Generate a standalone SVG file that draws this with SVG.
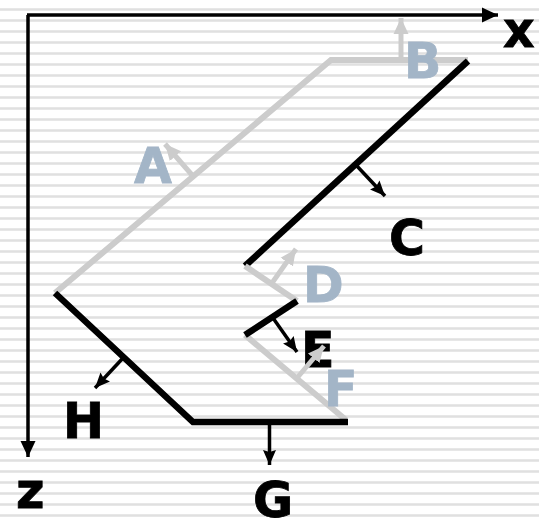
<svg xmlns="http://www.w3.org/2000/svg" width="539" height="521" viewBox="0 0 539 521">
<style>
text{font-family:"DejaVu Sans",sans-serif;font-weight:700;font-size:49px;stroke-width:.8}
.k{fill:#000;stroke:#000}.b{fill:#a3b5c7;stroke:#a3b5c7}
.edge{fill:none;stroke-width:6;stroke-linecap:butt;stroke-linejoin:miter}
.ek{stroke:#000;stroke-width:6.500}.eg{stroke:#cccccc}
.n{fill:none;stroke-width:3.500}
.nk{stroke:#000}.ng{stroke:#cccccc;stroke-width:5}
.ax{fill:none;stroke:#000;stroke-width:3.500}
.st{stroke:#e0e0e0;stroke-width:2.500}
</style>
<defs>
<marker id="ak" markerUnits="userSpaceOnUse" markerWidth="18" markerHeight="18" refX="16" refY="9" orient="auto"><path d="M1 2.500L16 9L1 15.500L3 9Z" fill="#000"/></marker>
<marker id="ag" markerUnits="userSpaceOnUse" markerWidth="18" markerHeight="18" refX="16" refY="9" orient="auto"><path d="M0 1.500L16 9L0 16.500Z" fill="#cccccc"/></marker>
<marker id="ax" markerUnits="userSpaceOnUse" markerWidth="18" markerHeight="18" refX="16" refY="9" orient="auto"><path d="M0 1.500L16 9L0 16.500Z" fill="#000"/></marker>
</defs>
<rect width="539" height="521" fill="#fff"/>
<g id="stripes" class="st">
<path d="M0 9.500H539M0 20.500H539M0 31.500H539M0 42.500H539M0 53.500H539M0 64.500H539M0 75.500H539M0 86.500H539M0 97.500H539M0 108.500H539M0 119.500H539M0 130.500H539M0 141.500H539M0 152.500H539M0 163.500H539M0 174.500H539M0 185.500H539M0 196.500H539M0 207.500H539M0 218.500H539M0 229.500H539M0 240.500H539M0 251.500H539M0 262.500H539M0 273.500H539M0 284.500H539M0 295.500H539M0 306.500H539M0 317.500H539M0 328.500H539M0 339.500H539M0 350.500H539M0 361.500H539M0 372.500H539M0 383.500H539M0 394.500H539M0 405.500H539M0 416.500H539M0 427.500H539M0 438.500H539M0 449.500H539M0 460.500H539M0 471.500H539M0 482.500H539M0 493.500H539M0 504.500H539M0 515.500H539"/>
</g>
<g id="node-A"><text class="b" x="134" y="183">A</text></g>
<g id="node-C"><text class="k" x="389" y="255">C</text></g>
<g id="node-D"><text class="b" x="303" y="302">D</text></g>
<g id="node-E"><text class="k" x="301" y="367">E</text></g>
<g id="node-G"><text class="k" x="253" y="517">G</text></g>
<g id="node-H"><text class="k" x="63" y="438">H</text></g>
<g id="node-x"><text class="k" x="503" y="47">x</text></g>
<g id="node-z"><text class="k" x="16" y="508">z</text></g>
<g id="connectors">
<path class="ax" marker-end="url(#ax)" d="M27 15H498"/>
<path class="ax" marker-end="url(#ax)" d="M28 15V457"/>
<path class="edge eg" d="M55 293L331 60H468"/>
<path class="edge ek" d="M468 61L245 266"/>
<path class="edge eg" d="M245 266L297 301"/>
<path class="edge eg" d="M245 335L346 420"/>
<path class="edge ek" d="M297 301L245 335"/>
<path class="edge ek" d="M348 422H193L55 293"/>
<path class="n ng" marker-end="url(#ag)" d="M192 175L165 144"/>
<path class="n ng" marker-end="url(#ag)" d="M401 60V18"/>
<path class="n nk" marker-end="url(#ak)" d="M356 165L385 196"/>
<path class="n ng" marker-end="url(#ag)" d="M272 283L296 249"/>
<path class="n nk" marker-end="url(#ak)" d="M273 318L297 352"/>
<path class="n ng" marker-end="url(#ag)" d="M297 378L324 346"/>
<path class="n nk" marker-end="url(#ak)" d="M269.500 422V465"/>
<path class="n nk" marker-end="url(#ak)" d="M123 358L95 388"/>
</g>
<g id="node-B"><text class="b" x="404" y="78">B</text></g>
<g id="node-F"><text class="b" x="324" y="406">F</text></g>
</svg>
